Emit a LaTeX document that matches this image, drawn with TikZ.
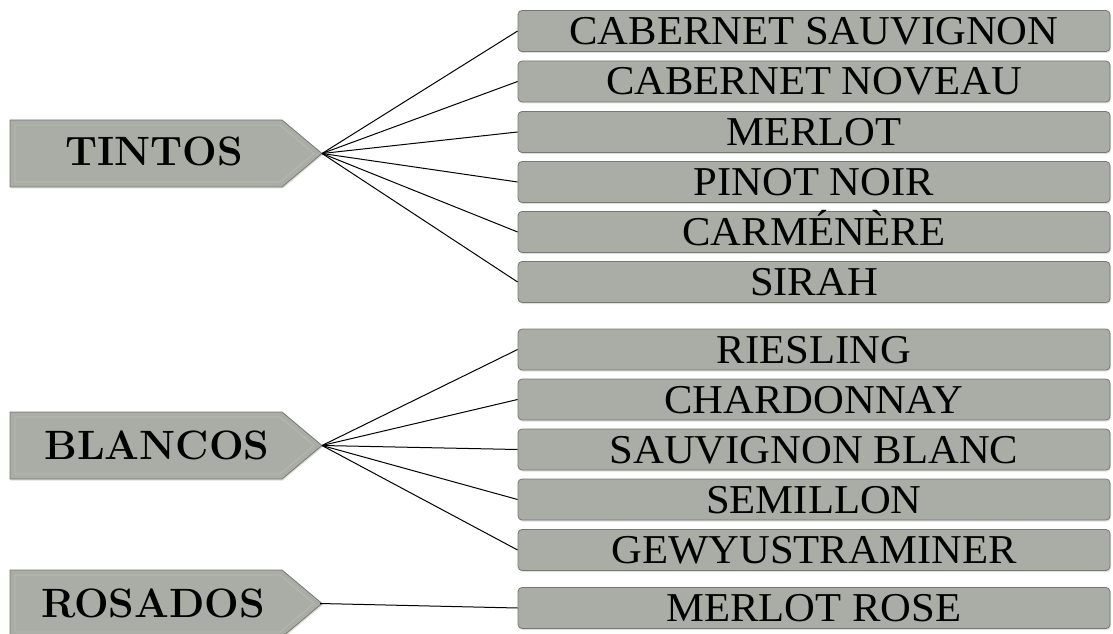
\documentclass[tikz,border=0pt]{standalone}
\usepackage{fontspec}
\newfontfamily\grapefont{Liberation Serif}[FakeStretch=1.04]
\usetikzlibrary{shadows}
\definecolor{boxgray}{RGB}{170,173,165}
\definecolor{edgegray}{RGB}{118,121,115}
\definecolor{innergray}{RGB}{186,189,181}
\tikzset{
  grape/.style={draw=edgegray, line width=0.8pt, fill=boxgray, rounded corners=4pt,
    minimum width=592pt, minimum height=41pt, inner sep=0pt,
    text height=27pt, text depth=0pt,
    font=\grapefont\fontsize{41}{41}\selectfont,
    drop shadow={opacity=0.25, shadow xshift=1pt, shadow yshift=-1.5pt}},
  catshape/.style={draw=edgegray, line width=0.8pt, fill=boxgray,
    drop shadow={opacity=0.25, shadow xshift=1pt, shadow yshift=-1.5pt}},
  catinner/.style={draw=innergray, line width=0.6pt},
  catlabel/.style={font=\fontsize{41}{41}\selectfont\bfseries, inner sep=0pt,
    text height=28pt, text depth=0pt},
  conn/.style={line width=1pt, black}
}
\begin{document}
\begin{tikzpicture}[x=1pt,y=1pt]
\useasboundingbox (0,0) rectangle (1113,633);
% category arrows
\path[catshape] (10,513) -- (282,513) -- (322,479.5) -- (282,446) -- (10,446) -- cycle;
\draw[catinner] (15,508) -- (280,508) -- (314,479.5) -- (280,451) -- (15,451) -- cycle;
\coordinate (tintostip) at (322,479.5);
\node[catlabel] (tintos) at (154,481) {TINTOS};

\path[catshape] (10,221) -- (282,221) -- (322,187.5) -- (282,154) -- (10,154) -- cycle;
\draw[catinner] (15,216) -- (280,216) -- (314,187.5) -- (280,159) -- (15,159) -- cycle;
\coordinate (blancostip) at (322,187.5);
\node[catlabel] (blancos) at (157,188) {BLANCOS};

\path[catshape] (10,63) -- (282,63) -- (322,29.5) -- (282,-4) -- (10,-4) -- cycle;
\draw[catinner] (15,58) -- (280,58) -- (314,29.5) -- (280,1) -- (15,1) -- cycle;
\coordinate (rosadostip) at (320,29.5);
\node[catlabel] (rosados) at (153,30) {ROSADOS};

% grape boxes
\node[grape] (t1) at (814,602) {CABERNET SAUVIGNON};
\node[grape] (t2) at (814,551.5) {CABERNET NOVEAU};
\node[grape] (t3) at (814,501) {MERLOT};
\node[grape] (t4) at (814,451) {PINOT NOIR};
\node[grape] (t5) at (814,401) {CARMÉNÈRE};
\node[grape] (t6) at (814,351) {SIRAH};
\node[grape] (b1) at (814,283.5) {RIESLING};
\node[grape] (b2) at (814,233.5) {CHARDONNAY};
\node[grape] (b3) at (814,183.5) {SAUVIGNON BLANC};
\node[grape] (b4) at (814,133.5) {SEMILLON};
\node[grape] (b5) at (814,83) {GEWYUSTRAMINER};
\node[grape] (r1) at (814,25) {MERLOT ROSE};

% connectors
\foreach \n in {t1,t2,t3,t4,t5,t6}{\draw[conn] (tintostip) -- (\n.west);}
\foreach \n in {b1,b2,b3,b4,b5}{\draw[conn] (blancostip) -- (\n.west);}
\draw[conn] (rosadostip) -- (r1.west);
\end{tikzpicture}
\end{document}
